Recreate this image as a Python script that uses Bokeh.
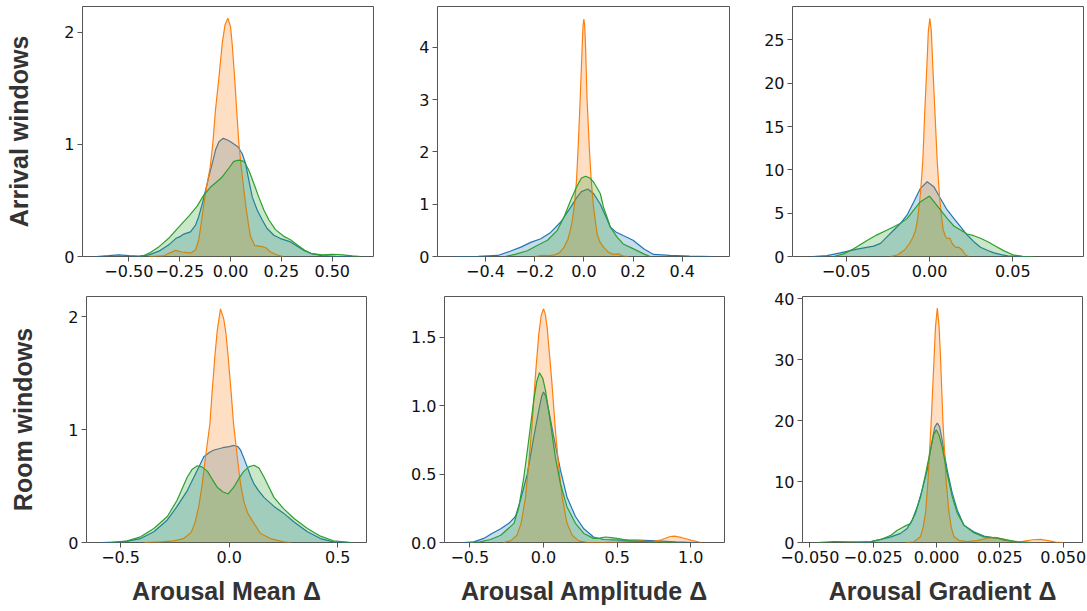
from bokeh.plotting import figure
from bokeh.layouts import column, row
from bokeh.models import ColumnDataSource, FixedTicker, Range1d
from bokeh.embed import file_html
from bokeh.resources import INLINE

# ---------------- data ----------------
# Series colours: blue, orange, green (three groups per panel)

# Arrival windows / Arousal Mean
AM_BLUE_X = [-0.66, -0.60, -0.55, -0.50, -0.45, -0.40, -0.35, -0.30, -0.27, -0.246, -0.23, -0.197, -0.172, -0.156, -0.139, -0.123, -0.107, -0.09, -0.074, -0.057, -0.036, -0.015, 0.0, 0.036, 0.057, 0.074, 0.09, 0.107, 0.131, 0.156, 0.18, 0.213, 0.246, 0.295, 0.33, 0.36, 0.40, 0.45, 0.52, 0.60]
AM_BLUE_Y = [0.0, 0.008, 0.015, 0.008, 0.004, 0.015, 0.05, 0.11, 0.16, 0.18, 0.2, 0.22, 0.28, 0.36, 0.47, 0.59, 0.71, 0.83, 0.95, 1.025, 1.055, 1.04, 1.025, 0.98, 0.92, 0.83, 0.68, 0.53, 0.415, 0.326, 0.25, 0.19, 0.16, 0.13, 0.09, 0.055, 0.025, 0.008, 0.002, 0.0]
AM_ORANGE_X = [-0.40, -0.33, -0.30, -0.27, -0.24, -0.21, -0.197, -0.172, -0.156, -0.144, -0.131, -0.118, -0.10, -0.087, -0.074, -0.057, -0.041, -0.027, -0.013, 0.0, 0.008, 0.02, 0.03, 0.041, 0.049, 0.062, 0.075, 0.087, 0.098, 0.118, 0.148, 0.172, 0.197, 0.23, 0.26]
AM_ORANGE_Y = [0.0, 0.005, 0.03, 0.055, 0.04, 0.035, 0.03, 0.06, 0.15, 0.3, 0.47, 0.62, 0.8, 1.01, 1.31, 1.6, 1.9, 2.07, 2.127, 2.05, 1.9, 1.6, 1.31, 1.01, 0.86, 0.65, 0.45, 0.3, 0.18, 0.1, 0.09, 0.08, 0.04, 0.013, 0.0]
AM_GREEN_X = [-0.45, -0.43, -0.40, -0.35, -0.30, -0.246, -0.205, -0.164, -0.131, -0.098, -0.066, -0.041, -0.008, 0.016, 0.041, 0.066, 0.09, 0.115, 0.139, 0.164, 0.189, 0.221, 0.262, 0.295, 0.33, 0.365, 0.40, 0.45, 0.50, 0.55, 0.60, 0.64]
AM_GREEN_Y = [0.0, 0.005, 0.03, 0.09, 0.17, 0.28, 0.36, 0.45, 0.55, 0.62, 0.67, 0.71, 0.79, 0.85, 0.86, 0.85, 0.77, 0.65, 0.53, 0.415, 0.326, 0.24, 0.18, 0.15, 0.1, 0.055, 0.025, 0.015, 0.02, 0.015, 0.005, 0.0]

# Arrival windows / Arousal Amplitude
AA_BLUE_X = [-0.52, -0.43, -0.35, -0.30, -0.256, -0.216, -0.175, -0.135, -0.094, -0.054, -0.03, -0.01, 0.016, 0.04, 0.067, 0.088, 0.108, 0.13, 0.16, 0.2, 0.243, 0.283, 0.35, 0.43, 0.52]
AA_BLUE_Y = [0.0, 0.005, 0.02, 0.1, 0.18, 0.27, 0.34, 0.46, 0.66, 0.94, 1.12, 1.24, 1.29, 1.2, 1.0, 0.78, 0.56, 0.47, 0.4, 0.31, 0.15, 0.04, 0.02, 0.01, 0.0]
AA_ORANGE_X = [-0.20, -0.17, -0.14, -0.12, -0.10, -0.08, -0.065, -0.055, -0.046, -0.038, -0.03, -0.024, -0.015, -0.007, -0.0035, 0.0, 0.0035, 0.007, 0.013, 0.023, 0.03, 0.038, 0.046, 0.054, 0.065, 0.08, 0.10, 0.12, 0.14, 0.16, 0.18]
AA_ORANGE_Y = [0.0, 0.02, 0.015, 0.03, 0.07, 0.18, 0.33, 0.5, 0.72, 1.0, 1.45, 2.0, 3.0, 4.0, 4.4, 4.54, 4.4, 4.0, 3.0, 2.0, 1.45, 1.0, 0.7, 0.43, 0.28, 0.18, 0.08, 0.04, 0.05, 0.01, 0.0]
AA_GREEN_X = [-0.32, -0.28, -0.23, -0.19, -0.148, -0.108, -0.081, -0.054, -0.03, -0.01, 0.007, 0.025, 0.04, 0.055, 0.067, 0.08, 0.095, 0.108, 0.135, 0.16, 0.2, 0.243, 0.27]
AA_GREEN_Y = [0.0, 0.04, 0.11, 0.21, 0.31, 0.5, 0.75, 1.07, 1.33, 1.5, 1.535, 1.5, 1.42, 1.3, 1.2, 0.94, 0.74, 0.56, 0.37, 0.24, 0.15, 0.05, 0.0]

# Arrival windows / Arousal Gradient
AG_BLUE_X = [-0.07, -0.0615, -0.0535, -0.0435, -0.0335, -0.0294, -0.0254, -0.0214, -0.0174, -0.0134, -0.0094, -0.0054, -0.0014, 0.0026, 0.0066, 0.0106, 0.0146, 0.0186, 0.0226, 0.0266, 0.0306, 0.035, 0.0387, 0.043, 0.047, 0.055, 0.06]
AG_BLUE_Y = [0.0, 0.1, 0.42, 0.85, 1.2, 1.52, 2.29, 3.06, 3.83, 4.8, 6.33, 7.87, 8.63, 8.06, 6.7, 5.37, 4.4, 3.44, 2.48, 1.71, 1.06, 0.7, 0.42, 0.22, 0.08, 0.01, 0.0]
AG_ORANGE_X = [-0.0234, -0.019, -0.015, -0.012, -0.01, -0.0084, -0.007, -0.0054, -0.004, -0.0028, -0.0014, -0.0007, 0.0002, 0.0011, 0.0018, 0.0032, 0.0046, 0.006, 0.0072, 0.0082, 0.0096, 0.0106, 0.0122, 0.0136, 0.0156, 0.0176, 0.0196, 0.0216, 0.0236]
AG_ORANGE_Y = [0.0, 0.2, 0.75, 1.5, 2.2, 3.0, 4.5, 7.3, 11.1, 16.9, 22.7, 26.0, 27.5, 26.0, 22.7, 16.9, 11.1, 6.9, 4.6, 3.1, 2.3, 2.1, 2.1, 1.5, 1.06, 1.06, 0.75, 0.17, 0.0]
AG_GREEN_X = [-0.0575, -0.0515, -0.0455, -0.0375, -0.0315, -0.0254, -0.0214, -0.0174, -0.0134, -0.0094, -0.0054, 0.0, 0.0066, 0.0106, 0.0146, 0.0186, 0.0226, 0.0266, 0.0306, 0.035, 0.0387, 0.0447, 0.0507, 0.056, 0.063]
AG_GREEN_Y = [0.0, 0.3, 0.9, 1.85, 2.5, 3.06, 3.44, 3.83, 4.4, 5.37, 6.33, 6.98, 5.37, 4.4, 3.52, 3.06, 2.6, 2.4, 2.1, 1.7, 1.3, 0.65, 0.15, 0.02, 0.0]

# Room windows / Arousal Mean
RM_BLUE_X = [-0.59, -0.485, -0.408, -0.347, -0.285, -0.24, -0.193, -0.147, -0.117, -0.09, -0.07, -0.03, 0.0, 0.021, 0.04, 0.052, 0.067, 0.083, 0.1, 0.114, 0.135, 0.16, 0.206, 0.25, 0.3, 0.36, 0.42, 0.48, 0.56]
RM_BLUE_Y = [0.0, 0.006, 0.035, 0.095, 0.2, 0.32, 0.46, 0.64, 0.76, 0.8, 0.82, 0.84, 0.85, 0.86, 0.85, 0.82, 0.75, 0.67, 0.58, 0.52, 0.46, 0.4, 0.32, 0.26, 0.18, 0.095, 0.035, 0.006, 0.0]
RM_ORANGE_X = [-0.39, -0.316, -0.255, -0.21, -0.175, -0.157, -0.14, -0.124, -0.109, -0.089, -0.078, -0.066, -0.055, -0.04, -0.025, -0.015, -0.005, 0.008, 0.02, 0.037, 0.052, 0.068, 0.085, 0.114, 0.144, 0.19, 0.25, 0.28]
RM_ORANGE_Y = [0.0, 0.006, 0.015, 0.035, 0.09, 0.18, 0.32, 0.52, 0.76, 1.05, 1.35, 1.65, 1.88, 2.07, 1.98, 1.85, 1.65, 1.35, 1.05, 0.76, 0.52, 0.36, 0.26, 0.17, 0.08, 0.035, 0.006, 0.0]
RM_GREEN_X = [-0.546, -0.47, -0.408, -0.347, -0.285, -0.24, -0.193, -0.17, -0.147, -0.125, -0.1, -0.078, -0.055, -0.03, -0.005, 0.021, 0.045, 0.067, 0.09, 0.114, 0.137, 0.16, 0.183, 0.206, 0.25, 0.3, 0.36, 0.42, 0.48, 0.56]
RM_GREEN_Y = [0.0, 0.015, 0.05, 0.124, 0.23, 0.375, 0.58, 0.65, 0.68, 0.67, 0.63, 0.56, 0.49, 0.45, 0.43, 0.49, 0.57, 0.63, 0.67, 0.685, 0.66, 0.58, 0.49, 0.4, 0.3, 0.21, 0.124, 0.056, 0.015, 0.0]

# Room windows / Arousal Amplitude
RA_BLUE_X = [-0.54, -0.473, -0.405, -0.35, -0.29, -0.235, -0.19, -0.156, -0.11, -0.066, -0.032, -0.012, 0.0, 0.015, 0.036, 0.07, 0.115, 0.16, 0.217, 0.274, 0.34, 0.41, 0.52, 0.64, 0.77, 0.9, 1.04]
RA_BLUE_Y = [0.0, 0.005, 0.03, 0.066, 0.1, 0.14, 0.19, 0.31, 0.5, 0.77, 0.965, 1.07, 1.1, 1.07, 0.965, 0.77, 0.53, 0.33, 0.19, 0.1, 0.04, 0.022, 0.017, 0.017, 0.012, 0.005, 0.0]
RA_ORANGE_X = [-0.27, -0.224, -0.18, -0.152, -0.122, -0.1, -0.077, -0.054, -0.032, -0.015, 0.0, 0.012, 0.025, 0.054, 0.081, 0.104, 0.127, 0.16, 0.195, 0.24, 0.3, 0.41, 0.5, 0.6, 0.66, 0.73, 0.8, 0.86, 0.89, 0.94, 1.0, 1.07]
RA_ORANGE_Y = [0.0, 0.012, 0.053, 0.14, 0.33, 0.58, 0.87, 1.23, 1.52, 1.66, 1.707, 1.67, 1.57, 1.21, 0.82, 0.55, 0.33, 0.14, 0.053, 0.012, 0.0, 0.0, 0.003, 0.008, 0.012, 0.005, 0.02, 0.044, 0.046, 0.035, 0.017, 0.0]
RA_GREEN_X = [-0.5, -0.43, -0.36, -0.29, -0.247, -0.2, -0.167, -0.133, -0.1, -0.066, -0.045, -0.027, -0.005, 0.014, 0.048, 0.081, 0.115, 0.16, 0.217, 0.274, 0.34, 0.38, 0.42, 0.46, 0.5, 0.59, 0.75, 0.9]
RA_GREEN_Y = [0.0, 0.005, 0.022, 0.053, 0.095, 0.14, 0.26, 0.48, 0.75, 1.04, 1.18, 1.24, 1.2, 1.11, 0.87, 0.62, 0.43, 0.26, 0.14, 0.066, 0.03, 0.032, 0.04, 0.035, 0.03, 0.012, 0.005, 0.0]

# Room windows / Arousal Gradient
RG_BLUE_X = [-0.031, -0.026, -0.022, -0.018, -0.0142, -0.0116, -0.0096, -0.0076, -0.0057, -0.0037, -0.0017, -0.0007, 0.0003, 0.0012, 0.0022, 0.0042, 0.0062, 0.0082, 0.0108, 0.0147, 0.0187, 0.022, 0.024, 0.0266, 0.0318, 0.038]
RG_BLUE_Y = [0.0, 0.1, 0.5, 0.93, 1.5, 2.3, 3.7, 5.9, 8.6, 11.9, 16.8, 19.0, 19.6, 19.0, 16.8, 11.9, 8.1, 5.3, 2.85, 1.75, 1.04, 0.8, 0.77, 0.38, 0.1, 0.0]
RG_ORANGE_X = [-0.012, -0.009, -0.0063, -0.0053, -0.0043, -0.0034, -0.0021, -0.001, -0.0004, 0.0003, 0.001, 0.0016, 0.0025, 0.0038, 0.0049, 0.0058, 0.0068, 0.009, 0.012, 0.016, 0.02, 0.023, 0.026, 0.03, 0.034, 0.038, 0.041, 0.044, 0.047, 0.05]
RG_ORANGE_Y = [0.0, 0.1, 1.0, 2.5, 5.0, 10.0, 20.0, 30.0, 35.5, 38.5, 35.5, 30.0, 20.0, 10.0, 5.0, 2.5, 1.0, 0.3, 0.15, 0.3, 0.7, 0.85, 0.6, 0.15, 0.2, 0.45, 0.5, 0.3, 0.05, 0.0]
RG_GREEN_X = [-0.047, -0.0405, -0.034, -0.026, -0.022, -0.018, -0.0155, -0.0129, -0.0103, -0.0083, -0.0063, -0.0043, -0.0024, -0.0012, -0.0001, 0.001, 0.0022, 0.0042, 0.0062, 0.0082, 0.0108, 0.0147, 0.0187, 0.0226, 0.0266, 0.0318, 0.037]
RG_GREEN_Y = [0.0, 0.16, 0.1, 0.16, 0.5, 1.2, 2.0, 2.6, 3.1, 4.8, 7.5, 11.3, 15.2, 17.6, 18.5, 17.6, 15.7, 11.3, 7.5, 4.8, 2.85, 1.6, 0.93, 0.8, 0.5, 0.1, 0.0]

# Tick values and labels
AM_XTICKS = [-0.5, -0.25, 0.0, 0.25, 0.5]
AM_XLABELS = ["\u22120.50", "\u22120.25", "0.00", "0.25", "0.50"]
AM_YTICKS = [0, 1, 2]
AM_YLABELS = ["0", "1", "2"]
AA_XTICKS = [-0.4, -0.2, 0.0, 0.2, 0.4]
AA_XLABELS = ["\u22120.4", "\u22120.2", "0.0", "0.2", "0.4"]
AA_YTICKS = [0, 1, 2, 3, 4]
AA_YLABELS = ["0", "1", "2", "3", "4"]
AG_XTICKS = [-0.05, 0.0, 0.05]
AG_XLABELS = ["\u22120.05", "0.00", "0.05"]
AG_YTICKS = [0, 5, 10, 15, 20, 25]
AG_YLABELS = ["0", "5", "10", "15", "20", "25"]
RM_XTICKS = [-0.5, 0.0, 0.5]
RM_XLABELS = ["\u22120.5", "0.0", "0.5"]
RM_YTICKS = [0, 1, 2]
RM_YLABELS = ["0", "1", "2"]
RA_XTICKS = [-0.5, 0.0, 0.5, 1.0]
RA_XLABELS = ["\u22120.5", "0.0", "0.5", "1.0"]
RA_YTICKS = [0.0, 0.5, 1.0, 1.5]
RA_YLABELS = ["0.0", "0.5", "1.0", "1.5"]
RG_XTICKS = [-0.05, -0.025, 0.0, 0.025, 0.05]
RG_XLABELS = ["\u22120.050", "\u22120.025", "0.000", "0.025", "0.050"]
RG_YTICKS = [0, 10, 20, 30, 40]
RG_YLABELS = ["0", "10", "20", "30", "40"]

ROW_LABELS = ["Arrival windows", "Room windows"]
COL_LABELS = ["Arousal Mean \u0394", "Arousal Amplitude \u0394", "Arousal Gradient \u0394"]

BLUE = "#1f77b4"
ORANGE = "#ff7f0e"
GREEN = "#2ca02c"
SPINE = "#555555"
TITLE_FONT = "Liberation Sans"
TICK_FONT = "DejaVu Sans"


def panel(curves, xr, yr, xt, xl, yt, yl, fw, fh, bl, br, bt, bb,
          ylabel=None, xlabel=None, tick_size="16px"):
    p = figure(frame_width=fw, frame_height=fh,
               x_range=Range1d(*xr), y_range=Range1d(*yr),
               output_backend="svg", toolbar_location=None,
               min_border_left=bl, min_border_right=br,
               min_border_top=bt, min_border_bottom=bb)
    p.grid.visible = False
    p.outline_line_color = SPINE
    p.outline_line_width = 1
    p.background_fill_color = "white"
    p.border_fill_color = "white"
    for xs, ys, col in curves:
        src = ColumnDataSource(dict(x=xs, y=ys))
        p.varea(x="x", y1=0, y2="y", source=src, fill_color=col, fill_alpha=0.25)
        p.line(x="x", y="y", source=src, line_color=col, line_width=1.2)
    for ax, ticks, labels in ((p.xaxis[0], xt, xl), (p.yaxis[0], yt, yl)):
        ax.ticker = FixedTicker(ticks=ticks)
        ax.major_label_overrides = {float(t): s for t, s in zip(ticks, labels)}
        ax.axis_line_color = None
        ax.major_tick_line_color = SPINE
        ax.major_tick_out = 5
        ax.major_tick_in = 0
        ax.minor_tick_line_color = None
        ax.major_label_standoff = 3
        ax.major_label_text_font = TICK_FONT
        ax.major_label_text_font_size = tick_size
        ax.major_label_text_color = "#111111"
    if ylabel:
        p.yaxis.axis_label = ylabel
        p.yaxis.axis_label_text_font = TITLE_FONT
        p.yaxis.axis_label_text_font_size = "25px"
        p.yaxis.axis_label_text_font_style = "bold"
        p.yaxis.axis_label_text_color = "#333333"
        p.yaxis.axis_label_standoff = 28
    if xlabel:
        p.xaxis.axis_label = xlabel
        p.xaxis.axis_label_text_font = TITLE_FONT
        p.xaxis.axis_label_text_font_size = "25px"
        p.xaxis.axis_label_text_font_style = "bold"
        p.xaxis.axis_label_text_color = "#333333"
        p.xaxis.axis_label_standoff = 11
    return p


pA = panel([(AM_BLUE_X, AM_BLUE_Y, BLUE), (AM_ORANGE_X, AM_ORANGE_Y, ORANGE), (AM_GREEN_X, AM_GREEN_Y, GREEN)],
           (-0.728, 0.703), (0, 2.232), AM_XTICKS, AM_XLABELS, AM_YTICKS, AM_YLABELS,
           291, 250, 82, 10, 6, 30, ylabel=ROW_LABELS[0])
pB = panel([(AA_BLUE_X, AA_BLUE_Y, BLUE), (AA_ORANGE_X, AA_ORANGE_Y, ORANGE), (AA_GREEN_X, AA_GREEN_Y, GREEN)],
           (-0.595, 0.592), (0, 4.78), AA_XTICKS, AA_XLABELS, AA_YTICKS, AA_YLABELS,
           292, 250, 54, 10, 6, 30)
pC = panel([(AG_BLUE_X, AG_BLUE_Y, BLUE), (AG_ORANGE_X, AG_ORANGE_Y, ORANGE), (AG_GREEN_X, AG_GREEN_Y, GREEN)],
           (-0.0822, 0.0924), (0, 28.85), AG_XTICKS, AG_XLABELS, AG_YTICKS, AG_YLABELS,
           291, 250, 53, 4, 6, 30)
pD = panel([(RM_BLUE_X, RM_BLUE_Y, BLUE), (RM_ORANGE_X, RM_ORANGE_Y, ORANGE), (RM_GREEN_X, RM_GREEN_Y, GREEN)],
           (-0.657, 0.632), (0, 2.18), RM_XTICKS, RM_XLABELS, RM_YTICKS, RM_YLABELS,
           280, 246, 86, 20, 10, 69, ylabel=ROW_LABELS[1], xlabel=COL_LABELS[0])
pE = panel([(RA_BLUE_X, RA_BLUE_Y, BLUE), (RA_ORANGE_X, RA_ORANGE_Y, ORANGE), (RA_GREEN_X, RA_GREEN_Y, GREEN)],
           (-0.672, 1.229), (0, 1.797), RA_XTICKS, RA_XLABELS, RA_YTICKS, RA_YLABELS,
           280, 246, 58, 20, 10, 69, xlabel=COL_LABELS[1])
pF = panel([(RG_BLUE_X, RG_BLUE_Y, BLUE), (RG_ORANGE_X, RG_ORANGE_Y, ORANGE), (RG_GREEN_X, RG_GREEN_Y, GREEN)],
           (-0.0529, 0.0576), (0, 40.4), RG_XTICKS, RG_XLABELS, RG_YTICKS, RG_YLABELS,
           280, 246, 58, 5, 10, 69, xlabel=COL_LABELS[2])

layout = column(row(pA, pB, pC), row(pD, pE, pF))

open("out.html", "w").write(file_html(layout, INLINE))
